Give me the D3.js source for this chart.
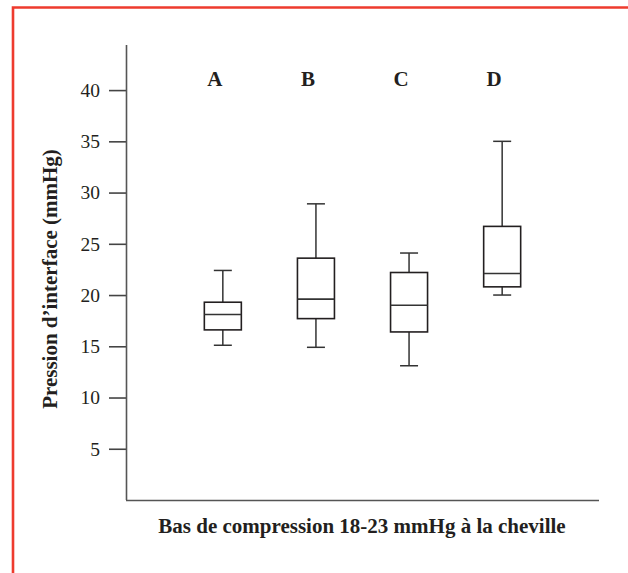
<!DOCTYPE html>
<html>
<head>
<meta charset="utf-8">
<script src="https://cdn.jsdelivr.net/npm/d3@7"></script>
<style>
  body { margin: 0; background: #fff; }
  svg text { font-family: "Liberation Serif", "Times New Roman", serif; fill: #231f20; }
</style>
</head>
<body>
<script>
// categories and box statistics (mmHg)
var groups = ["A", "B", "C", "D"];
var whiskerLow = [15.1, 14.9, 13.1, 20.0];
var q1 = [16.6, 17.7, 16.4, 20.8];
var median = [18.1, 19.6, 19.0, 22.1];
var q3 = [19.3, 23.6, 22.2, 26.7];
var whiskerHigh = [22.4, 28.9, 24.1, 35.0];
var yTicks = [5, 10, 15, 20, 25, 30, 35, 40];

var w = 628, h = 573;

var data = groups.map(function (g, i) {
    return { g: g, lo: whiskerLow[i], q1: q1[i], med: median[i], q3: q3[i], hi: whiskerHigh[i] };
});

var svg = d3.select("body").append("svg")
    .attr("width", w)
    .attr("height", h);

// red frame (cut at right and bottom)
svg.append("path")
    .attr("d", "M13,573 V7.5 H628")
    .attr("fill", "none")
    .attr("stroke", "#ee3b2e")
    .attr("stroke-width", 2.6);

var x = d3.scalePoint()
    .domain(groups)
    .range([126, 599])
    .padding(1.04);

var y = d3.scaleLinear()
    .domain([0, 44.4])
    .range([500, 45]);

// y axis
var yAxis = d3.axisLeft(y)
    .tickValues(yTicks)
    .tickSize(17)
    .tickPadding(9)
    .tickFormat(d3.format("d"));

var gy = svg.append("g")
    .attr("transform", "translate(126,0)")
    .call(yAxis);
gy.select(".domain").remove();
gy.selectAll(".tick line").attr("stroke", "#444").attr("stroke-width", 1.6);
gy.selectAll(".tick text")
    .attr("font-size", 19.5)
    .attr("font-family", "'Liberation Serif', serif")
    .attr("fill", "#231f20");

// axis lines
svg.append("line")
    .attr("x1", 126.5).attr("y1", 45)
    .attr("x2", 126.5).attr("y2", 500)
    .attr("stroke", "#555").attr("stroke-width", 1.6);
svg.append("line")
    .attr("x1", 126).attr("y1", 500.5)
    .attr("x2", 599).attr("y2", 500.5)
    .attr("stroke", "#555").attr("stroke-width", 1.6);

// boxes
var boxW = 37, capW = 18;
var box = svg.selectAll("g.box")
    .data(data)
    .enter()
    .append("g")
    .attr("class", "box")
    .attr("transform", function (d) { return "translate(" + x(d.g) + ",0)"; });

box.append("line")
    .attr("x1", 0).attr("x2", 0)
    .attr("y1", function (d) { return y(d.hi); })
    .attr("y2", function (d) { return y(d.q3); })
    .attr("stroke", "#333").attr("stroke-width", 1.5);
box.append("line")
    .attr("x1", 0).attr("x2", 0)
    .attr("y1", function (d) { return y(d.q1); })
    .attr("y2", function (d) { return y(d.lo); })
    .attr("stroke", "#333").attr("stroke-width", 1.5);
box.append("line")
    .attr("x1", -capW / 2).attr("x2", capW / 2)
    .attr("y1", function (d) { return y(d.hi); })
    .attr("y2", function (d) { return y(d.hi); })
    .attr("stroke", "#333").attr("stroke-width", 1.5);
box.append("line")
    .attr("x1", -capW / 2).attr("x2", capW / 2)
    .attr("y1", function (d) { return y(d.lo); })
    .attr("y2", function (d) { return y(d.lo); })
    .attr("stroke", "#333").attr("stroke-width", 1.5);
box.append("rect")
    .attr("x", -boxW / 2)
    .attr("width", boxW)
    .attr("y", function (d) { return y(d.q3); })
    .attr("height", function (d) { return y(d.q1) - y(d.q3); })
    .attr("fill", "none")
    .attr("stroke", "#231f20").attr("stroke-width", 1.6);
box.append("line")
    .attr("x1", -boxW / 2).attr("x2", boxW / 2)
    .attr("y1", function (d) { return y(d.med); })
    .attr("y2", function (d) { return y(d.med); })
    .attr("stroke", "#333").attr("stroke-width", 1.6);

// group letters
box.append("text")
    .attr("x", -8)
    .attr("y", 86)
    .attr("text-anchor", "middle")
    .attr("font-size", 21)
    .attr("font-weight", "bold")
    .text(function (d) { return d.g; });

// axis titles
svg.append("text")
    .attr("text-anchor", "middle")
    .attr("transform", "translate(57,279) rotate(-90)")
    .attr("font-size", 21)
    .attr("font-weight", "bold")
    .text("Pression d\u2019interface (mmHg)");

svg.append("text")
    .attr("x", 362)
    .attr("y", 533)
    .attr("text-anchor", "middle")
    .attr("font-size", 21)
    .attr("font-weight", "bold")
    .text("Bas de compression 18-23 mmHg à la cheville");
</script>
</body>
</html>
